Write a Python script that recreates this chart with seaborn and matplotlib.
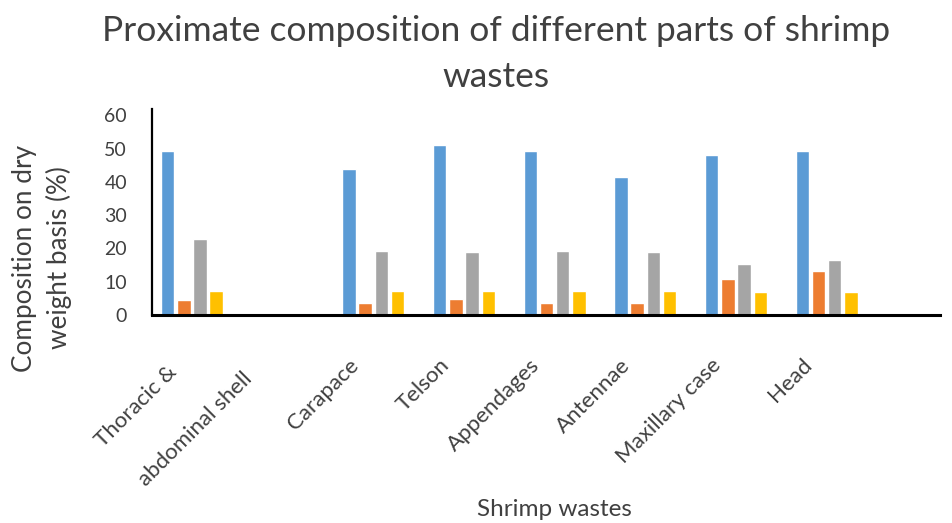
import matplotlib
matplotlib.use("Agg")
import matplotlib.pyplot as plt
from matplotlib.transforms import ScaledTranslation
import pandas as pd
import seaborn as sns

# Proximate composition (% dry weight) of each shrimp-waste part
parts = ["Thoracic & abdominal shell", "Carapace", "Telson", "Appendages",
         "Antennae", "Maxillary case", "Head"]
series_names = ["Series1", "Series2", "Series3", "Series4"]
series1 = [49.3, 43.9, 51.0, 49.3, 41.5, 48.1, 49.3]
series2 = [4.6, 3.7, 4.9, 3.7, 3.7, 10.9, 13.3]
series3 = [22.9, 19.3, 19.0, 19.3, 19.0, 15.4, 16.6]
series4 = [7.3, 7.3, 7.3, 7.3, 7.3, 7.0, 7.0]
yticks = [0, 10, 20, 30, 40, 50, 60]

colors = ["#5B9BD5", "#ED7D31", "#A5A5A5", "#FFC000"]
text_color = "#404040"

sns.set_theme(style="white")
plt.rcParams["font.family"] = ["Lato", "DejaVu Sans"]

rows = []
for name, vals in zip(series_names, [series1, series2, series3, series4]):
    for part, v in zip(parts, vals):
        rows.append({"part": part, "series": name, "value": v})
df = pd.DataFrame(rows)

# the first category's wrapped label occupies two slots on the axis
first_line, second_line = parts[0].replace("& ", "&\n").split("\n")
order = [parts[0], "_gap"] + parts[1:]
labels = [first_line, second_line] + parts[1:]

fig = plt.figure(figsize=(9.53, 5.23), dpi=100)
ax = fig.add_axes([152 / 953, 1 - 315 / 523, (940 - 152) / 953, 206.2 / 523])

sns.barplot(data=df, x="part", y="value", hue="series", order=order,
            hue_order=series_names, palette=colors, saturation=1,
            width=0.715, gap=0.17, legend=False, ax=ax)

ax.set_xlim(-0.44, 8.25)
ax.set_ylim(0, 62)
ax.set_yticks(yticks)
ax.set_yticklabels([str(t) for t in yticks])
ax.tick_params(axis="y", length=0, pad=18, labelsize=14, labelcolor=text_color)
ax.tick_params(axis="x", length=0, pad=0)
ax.set_xlabel("")
ax.set_ylabel("")

for side in ["top", "right"]:
    ax.spines[side].set_visible(False)
ax.spines["left"].set_color("black")
ax.spines["left"].set_linewidth(1.6)
ax.spines["bottom"].set_color("black")
ax.spines["bottom"].set_linewidth(2.2)

ax.set_xticks(range(len(order)))
ax.set_xticklabels(labels)
offsets = {0: (-25, -47), 1: (-41, -54)}
for i, lab in enumerate(ax.get_xticklabels()):
    dx, dy = offsets.get(i, (-25, -40))
    lab.set_rotation(45)
    lab.set_rotation_mode("anchor")
    lab.set_ha("right")
    lab.set_va("top")
    lab.set_fontsize(16)
    lab.set_color(text_color)
    lab.set_transform(lab.get_transform()
                      + ScaledTranslation(dx / 100, dy / 100, fig.dpi_scale_trans))

fig.text(496 / 953, 1 - 15 / 523,
         "Proximate composition of different parts of shrimp\nwastes",
         ha="center", va="top", fontsize=25.5, linespacing=1.52, color=text_color)
fig.text(42 / 953, 1 - 258 / 523, "Composition on dry\nweight basis (%)",
         rotation=90, ha="center", va="center", multialignment="center",
         fontsize=18.8, linespacing=1.45, color=text_color)
fig.text(554 / 953, 1 - 510 / 523, "Shrimp wastes", ha="center", va="center",
         fontsize=17.5, color=text_color)

fig.savefig("out.png", dpi=100)
